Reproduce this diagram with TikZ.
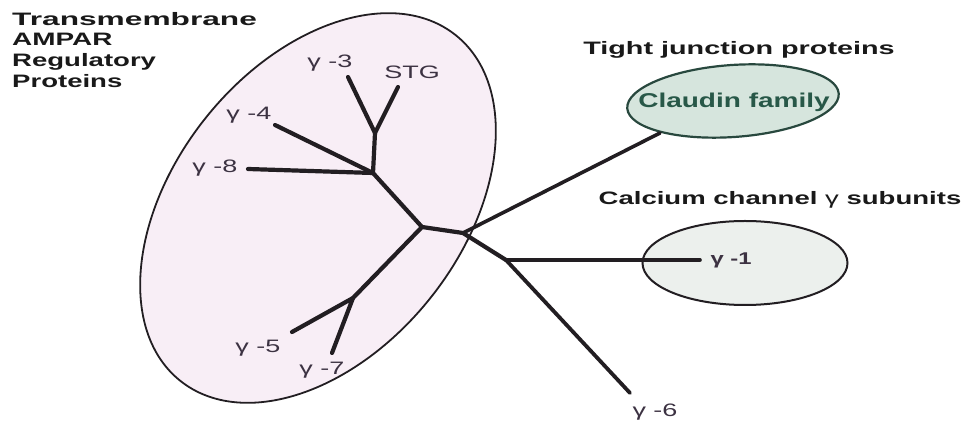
\documentclass[tikz,border=0pt]{standalone}
\usepackage{fontspec}
\setmainfont{Liberation Sans}
\usetikzlibrary{shapes.geometric}
\definecolor{pinkfill}{RGB}{248,238,246}
\definecolor{claudfill}{RGB}{214,229,221}
\definecolor{calcfill}{RGB}{236,240,237}
\definecolor{claudline}{RGB}{40,72,62}
\definecolor{claudtext}{RGB}{40,88,72}
\definecolor{treeline}{RGB}{34,30,34}
\definecolor{leafcol}{RGB}{60,50,66}
\newcommand{\wx}[2]{\scalebox{#1}[1]{#2}}
\begin{document}
\begin{tikzpicture}[x=1pt,y=1pt,
  branch/.style={line width=4.2pt, draw=treeline, line cap=round, line join=round},
  leaflabel/.style={text=leafcol, font=\fontsize{18}{20}\selectfont, inner sep=0pt},
  grouplabel/.style={text=black!90, font=\bfseries\fontsize{18}{20.7}\selectfont, inner sep=0pt},
  group/.style={ellipse, inner sep=0pt, outer sep=0pt}]
\useasboundingbox (0,0) rectangle (970,425);
% group ellipses
\node[group, fill=pinkfill, draw=treeline, line width=1.8pt,
      minimum width=442pt, minimum height=288pt, rotate=51.5] (tarp) at (318,217) {};
\node[group, fill=claudfill, draw=claudline, line width=2.2pt,
      minimum width=212pt, minimum height=72pt, rotate=4] (claud) at (733,324) {};
\node[group, fill=calcfill, draw=treeline, line width=2pt,
      minimum width=205pt, minimum height=84pt] (calc) at (745,162) {};
% tree coordinates
\coordinate (A) at (373,252);
\coordinate (Yj) at (375,292);
\coordinate (t3) at (348,348);
\coordinate (ts) at (398,338);
\coordinate (t4) at (275,300);
\coordinate (t8) at (248,256);
\coordinate (B) at (422,198);
\coordinate (E) at (353,127);
\coordinate (t5) at (292,93);
\coordinate (t7) at (332,72);
\coordinate (C) at (463,192);
\coordinate (tc) at (660,292);
\coordinate (D) at (506,165);
\coordinate (t1) at (700,165);
\coordinate (t6) at (630,32);
% branches
\draw[branch] (t3) -- (Yj) -- (ts);
\draw[branch] (Yj) -- (A);
\draw[branch] (t4) -- (A);
\draw[branch] (t8) -- (A);
\draw[branch] (A) -- (B) -- (C) -- (D);
\draw[branch] (B) -- (E);
\draw[branch] (t5) -- (E) -- (t7);
\draw[branch, line width=3.6pt] (C) -- (tc);
\draw[branch, line width=3.6pt] (D) -- (t1);
\draw[branch, line width=3.8pt] (D) -- (t6);
% leaf labels
\node[leaflabel] (l3) at (330,362) {\wx{1.5}{γ -3}};
\node[leaflabel] (lstg) at (412,353) {\wx{1.5}{STG}};
\node[leaflabel] (l4) at (249,310) {\wx{1.5}{γ -4}};
\node[leaflabel] (l8) at (215,257) {\wx{1.5}{γ -8}};
\node[leaflabel] (l5) at (258,77) {\wx{1.5}{γ -5}};
\node[leaflabel] (l7) at (322,55) {\wx{1.5}{γ -7}};
\node[leaflabel, font=\bfseries\fontsize{17}{20}\selectfont] (l1) at (731,165) {\wx{1.4}{γ -1}};
\node[leaflabel] (l6) at (655,13) {\wx{1.5}{γ -6}};
% group labels
\node[grouplabel, anchor=north west, align=left] (tarplabel) at (12,413)
  {\wx{1.76}{Transmembrane}\\\wx{1.55}{AMPAR}\\\wx{1.53}{Regulatory}\\\wx{1.53}{Proteins}};
\node[grouplabel] (tjlabel) at (739,375) {\wx{1.6}{Tight junction proteins}};
\node[grouplabel] (calclabel) at (780,225) {\wx{1.53}{Calcium channel {\mdseries γ} subunits}};
\node[grouplabel, text=claudtext, font=\bfseries\fontsize{20}{22}\selectfont] (claudlabel) at (734,323) {\wx{1.4}{Claudin family}};
\end{tikzpicture}
\end{document}
